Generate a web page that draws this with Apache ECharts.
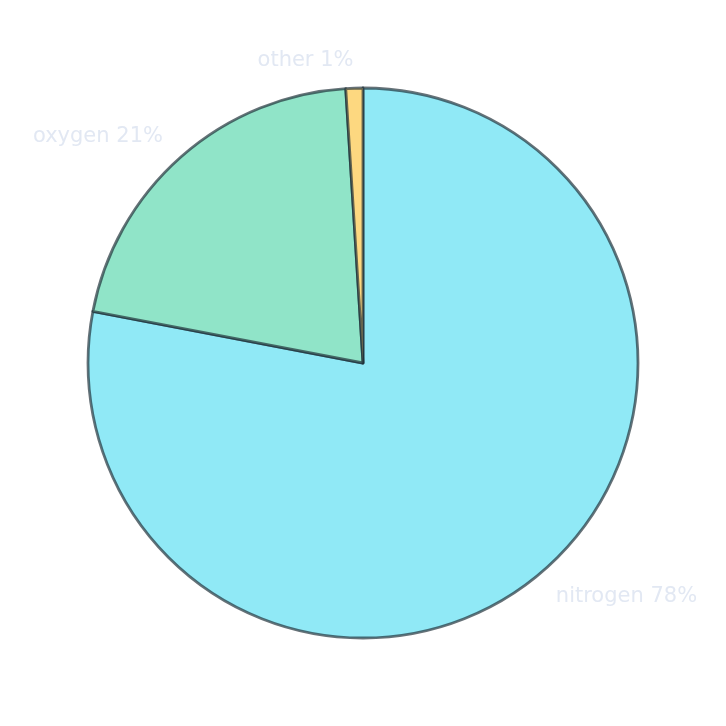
<!DOCTYPE html>
<html>
<head>
<meta charset="utf-8">
<script src="https://cdn.jsdelivr.net/npm/echarts@6/dist/echarts.min.js"></script>
<style>
  html, body { margin: 0; padding: 0; background: #fff; }
  #chart { width: 726px; height: 726px; }
</style>
</head>
<body>
<div id="chart"></div>
<script>
// Air composition
const gases = ['nitrogen', 'oxygen', 'other'];
const shares = [78, 21, 1];
const sliceColors = ['#90e9f6', '#90e4c8', '#fdd880'];

const chart = echarts.init(document.getElementById('chart'), null, { renderer: 'canvas' });

const radius = 275;

chart.setOption({
    animation: false,
    series: [
        {
            type: 'pie',
            center: [363, 363],
            radius: [0, radius],
            startAngle: 90,
            clockwise: true,
            avoidLabelOverlap: false,
            data: gases.map((name, i) => ({
                name: name,
                value: shares[i],
                itemStyle: { color: sliceColors[i] }
            })),
            itemStyle: {
                borderColor: 'rgba(30, 45, 55, 0.68)',
                borderWidth: 2.8
            },
            label: {
                show: true,
                position: 'outside',
                formatter: p => `${p.name} ${p.value}%`,
                color: '#e2e8f3',
                fontFamily: 'DejaVu Sans',
                fontSize: 21,
                distanceToLabelLine: 0
            },
            labelLine: {
                show: false,
                length: radius * 0.1,
                length2: 0
            },
            emphasis: { disabled: true }
        }
    ]
});
</script>
</body>
</html>
